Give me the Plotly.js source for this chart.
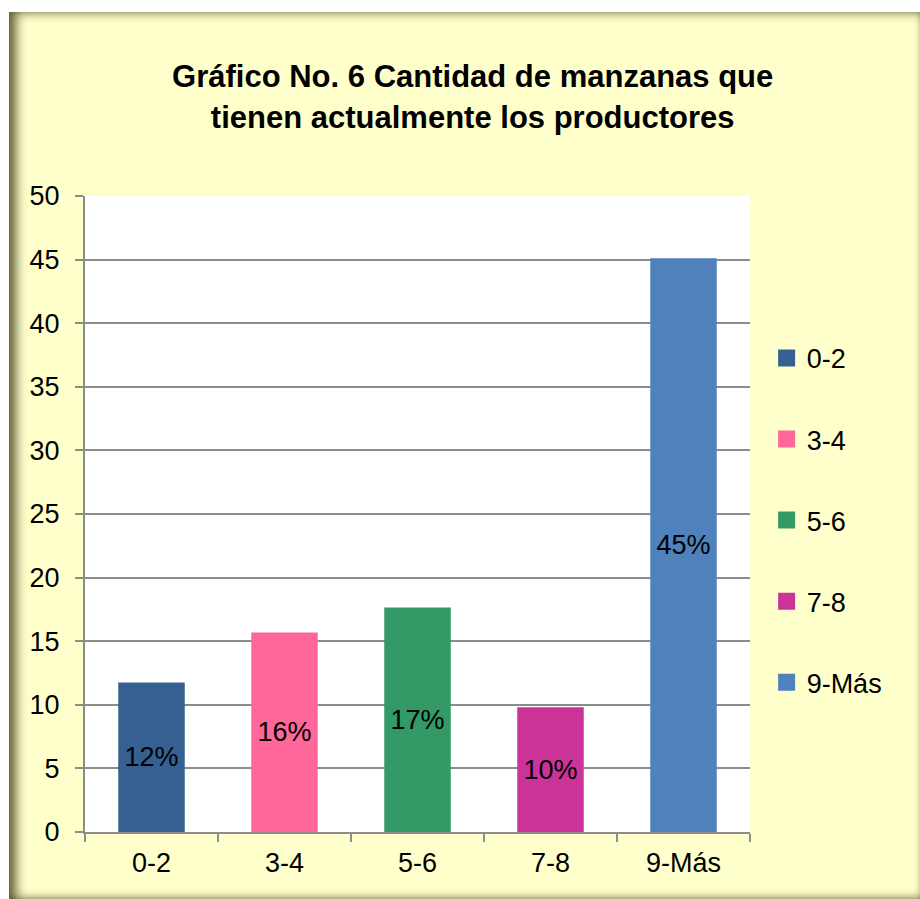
<!DOCTYPE html>
<html>
<head>
<meta charset="utf-8">
<script src="https://cdn.plot.ly/plotly-3.0.1.min.js"></script>
<style>
  body { margin: 0; background: #ffffff; }
  #frame {
    position: absolute; left: 9px; top: 12px; width: 911px; height: 887px;
    background: #ffffcc;
    box-shadow: inset 10px 3px 11px -3px rgba(70, 70, 30, 0.85),
                inset 0 -7px 8px -5px rgba(90, 90, 40, 0.55),
                inset -4px 0 6px -4px rgba(90, 90, 40, 0.4);
  }
  #chart { position: absolute; left: 0; top: 0; }
</style>
</head>
<body>
<div id="frame"><div id="chart"></div></div>
<script>
// manzanas por productor (porcentaje de productores)
var categories = ['0-2', '3-4', '5-6', '7-8', '9-Más'];
var values = [11.76, 15.69, 17.65, 9.80, 45.10];
var labels = ['12%', '16%', '17%', '10%', '45%'];
var colors = ['#366092', '#ff6699', '#339966', '#cc3399', '#4f81bd'];
var yTicks = [0, 5, 10, 15, 20, 25, 30, 35, 40, 45, 50];

var font = 'Arial, "Liberation Sans", sans-serif';

var traces = categories.map(function (c, i) {
    return {
        type: 'bar',
        name: c,
        x: [c],
        y: [values[i]],
        text: [labels[i]],
        textposition: 'inside',
        insidetextanchor: 'middle',
        textangle: 0,
        textfont: {family: font, size: 27, color: '#000000'},
        width: 0.5,
        legendgroup: 'g' + i,
        marker: {color: colors[i]},
        hoverinfo: 'x+y'
    };
});

var layout = {
    width: 911,
    height: 887,
    margin: {l: 76, r: 170, t: 184, b: 67},
    paper_bgcolor: 'rgba(0,0,0,0)',
    plot_bgcolor: '#ffffff',
    font: {family: font, size: 27, color: '#000000'},
    barmode: 'overlay',
    title: {
        text: 'Gráfico No. 6 Cantidad de manzanas que<br>tienen actualmente los productores',
        font: {family: font, size: 31, color: '#000000', weight: 'bold'},
        xref: 'container', x: 0.509, xanchor: 'center',
        yref: 'container', y: 0.915, yanchor: 'middle'
    },
    xaxis: {
        type: 'category',
        categoryorder: 'array',
        categoryarray: categories,
        showgrid: false,
        showline: true, linecolor: '#8c8c8c', linewidth: 2,
        ticks: 'outside', tickson: 'boundaries', ticklen: 8,
        tickcolor: '#8c8c8c', tickwidth: 2,
        ticklabelstandoff: 6,
        tickfont: {family: font, size: 27, color: '#000000'}
    },
    yaxis: {
        range: [0, 50],
        tickvals: yTicks,
        ticktext: yTicks.map(String),
        showgrid: true, gridcolor: '#8c8c8c', gridwidth: 2,
        zeroline: false,
        showline: true, linecolor: '#8c8c8c', linewidth: 2,
        ticks: 'outside', ticklen: 8, tickcolor: '#8c8c8c', tickwidth: 2,
        ticklabelstandoff: 10,
        tickfont: {family: font, size: 27, color: '#000000'}
    },
    legend: {
        x: 1.025, xanchor: 'left',
        y: 0.49, yanchor: 'middle',
        bgcolor: 'rgba(0,0,0,0)',
        font: {family: font, size: 27, color: '#000000'},
        tracegroupgap: 43,
        itemclick: false, itemdoubleclick: false
    },
    showlegend: true
};

Plotly.newPlot('chart', traces, layout, {displayModeBar: false, staticPlot: true}).then(function () {
    // bigger legend squares, like the original
    document.querySelectorAll('#chart .legend .legendpoints path').forEach(function (p) {
        p.setAttribute('d', 'M8.5,8.5H-8.5V-8.5H8.5Z');
    });
});
</script>
</body>
</html>
